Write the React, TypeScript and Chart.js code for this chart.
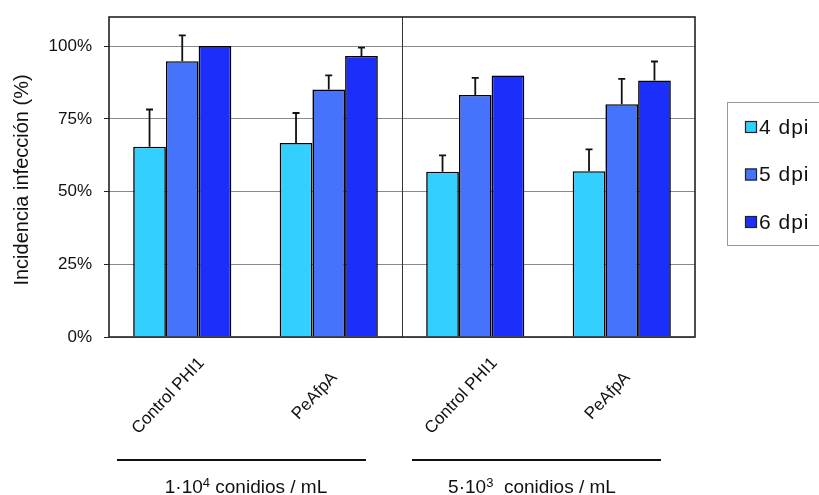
import React, { useEffect, useRef } from "react";
import { Chart, registerables } from "chart.js";

Chart.register(...registerables);

const categories = ["Control PHI1", "PeAfpA", "Control PHI1", "PeAfpA"];
const seriesLabels = ["4 dpi", "5 dpi", "6 dpi"];
const dpi4 = [65.4, 66.7, 56.8, 57.0];
const dpi5 = [94.8, 85.1, 83.2, 80.0];
const dpi6 = [100, 96.6, 89.9, 88.2];
const err4 = [12.8, 10.3, 5.6, 7.5];
const err5 = [8.9, 4.8, 5.9, 8.7];
const err6 = [0, 2.9, 0, 6.5];
const seriesColors = ["#33CFFF", "#4573FC", "#1C2FFA"];
const yTickValues = [0, 25, 50, 75, 100];
const groupBase = ["1·10", "5·10"];
const groupExp = ["4", "3"];
const groupRest = [" conidios / mL", "  conidios / mL"];
const yTitle = "Incidencia infección (%)";

const FONT = "'Liberation Sans', Arial, Helvetica, sans-serif";

const errors = [err4, err5, err6];

const decorPlugin = {
  id: "decor",
  beforeDatasetsDraw(chart: any) {
    const { ctx, chartArea, scales } = chart;
    const x = scales.x;
    const xm = (x.getPixelForValue(1) + x.getPixelForValue(2)) / 2;
    ctx.save();
    ctx.strokeStyle = "#333";
    ctx.lineWidth = 1;
    ctx.beginPath();
    ctx.moveTo(Math.round(xm) + 0.5, chartArea.top);
    ctx.lineTo(Math.round(xm) + 0.5, chartArea.bottom);
    ctx.stroke();
    ctx.restore();
  },
  afterDatasetsDraw(chart: any) {
    const { ctx, chartArea, scales } = chart;
    const y = scales.y;
    ctx.save();
    ctx.strokeStyle = "#111";
    ctx.lineWidth = 1.8;
    chart.data.datasets.forEach((ds: any, i: number) => {
      const meta = chart.getDatasetMeta(i);
      meta.data.forEach((el: any, j: number) => {
        const e = errors[i][j];
        if (!e) return;
        const yTop = y.getPixelForValue(ds.data[j] + e);
        ctx.beginPath();
        ctx.moveTo(el.x, el.y);
        ctx.lineTo(el.x, yTop);
        ctx.moveTo(el.x - 3.5, yTop);
        ctx.lineTo(el.x + 3.5, yTop);
        ctx.stroke();
      });
    });
    ctx.restore();
    ctx.save();
    ctx.strokeStyle = "#222";
    ctx.lineWidth = 1.6;
    ctx.strokeRect(chartArea.left, chartArea.top, chartArea.right - chartArea.left, chartArea.bottom - chartArea.top);
    ctx.restore();
  },
  afterDraw(chart: any) {
    const { ctx, chartArea, scales } = chart;
    const L = chartArea.left;
    const x = scales.x;

    // y axis title
    ctx.save();
    ctx.translate(22, (chartArea.top + chartArea.bottom) / 2 + 3);
    ctx.rotate(-Math.PI / 2);
    ctx.fillStyle = "#111";
    ctx.font = "20px " + FONT;
    ctx.textAlign = "center";
    ctx.textBaseline = "middle";
    ctx.fillText(yTitle, 0, 0);
    ctx.restore();

    // rotated category labels
    ctx.save();
    ctx.fillStyle = "#111";
    ctx.font = "17px " + FONT;
    ctx.textAlign = "center";
    ctx.textBaseline = "middle";
    categories.forEach((c, i) => {
      const px = x.getPixelForValue(i) - 14;
      const py = chartArea.bottom + 59;
      ctx.save();
      ctx.translate(px, py);
      ctx.rotate((-47 * Math.PI) / 180);
      ctx.fillText(c, 0, 0);
      ctx.restore();
    });
    ctx.restore();

    // group annotation lines and labels
    const spans = [
      [L + 8, L + 257],
      [L + 303, L + 552],
    ];
    const textCenters = [L + 137, L + 423];
    const lineY = chartArea.bottom + 123;
    const textY = chartArea.bottom + 156;
    ctx.save();
    spans.forEach((s, k) => {
      ctx.strokeStyle = "#111";
      ctx.lineWidth = 2.2;
      ctx.beginPath();
      ctx.moveTo(s[0], lineY);
      ctx.lineTo(s[1], lineY);
      ctx.stroke();
      const big = "19px " + FONT;
      const small = "13px " + FONT;
      ctx.font = big;
      const w1 = ctx.measureText(groupBase[k]).width;
      const w3 = ctx.measureText(groupRest[k]).width;
      ctx.font = small;
      const w2 = ctx.measureText(groupExp[k]).width;
      const total = w1 + w2 + w3;
      let cx = textCenters[k] - total / 2;
      ctx.fillStyle = "#111";
      ctx.textBaseline = "alphabetic";
      ctx.textAlign = "left";
      ctx.font = big;
      ctx.fillText(groupBase[k], cx, textY);
      cx += w1;
      ctx.font = small;
      ctx.fillText(groupExp[k], cx, textY - 6);
      cx += w2;
      ctx.font = big;
      ctx.fillText(groupRest[k], cx, textY);
    });
    ctx.restore();

    // legend
    const bx = chartArea.right + 32;
    const by = chartArea.top + 85;
    ctx.save();
    ctx.fillStyle = "#fff";
    ctx.fillRect(bx, by, 110, 143);
    ctx.strokeStyle = "#999";
    ctx.lineWidth = 1;
    ctx.strokeRect(bx + 0.5, by + 0.5, 110, 143);
    seriesLabels.forEach((lab, i) => {
      const cy = by + 25 + i * 47.5;
      ctx.fillStyle = seriesColors[i];
      ctx.fillRect(bx + 18, cy - 6, 12, 12);
      ctx.strokeStyle = "#222";
      ctx.lineWidth = 1.2;
      ctx.strokeRect(bx + 18.5, cy - 5.5, 11, 11);
      ctx.fillStyle = "#111";
      ctx.font = "21px " + FONT;
      (ctx as any).letterSpacing = "1px";
      ctx.textBaseline = "middle";
      ctx.textAlign = "left";
      ctx.fillText(lab, bx + 32, cy + 1);
      (ctx as any).letterSpacing = "0px";
    });
    ctx.restore();
  },
};

export default function App() {
  const ref = useRef<HTMLCanvasElement | null>(null);
  useEffect(() => {
    if (!ref.current) return;
    const datasets = [dpi4, dpi5, dpi6].map((d, i) => ({
      label: seriesLabels[i],
      data: d,
      backgroundColor: seriesColors[i],
      borderColor: "#000",
      borderWidth: 1.6,
      barPercentage: 1,
      categoryPercentage: 0.67,
    }));
    const chart = new Chart(ref.current, {
      type: "bar",
      data: { labels: categories, datasets },
      plugins: [decorPlugin],
      options: {
        responsive: false,
        animation: false,
        layout: { padding: { top: 17, right: 124, left: 0, bottom: 0 } },
        plugins: { legend: { display: false }, tooltip: { enabled: false } },
        scales: {
          x: {
            grid: { display: false },
            border: { display: false },
            ticks: { display: false },
            afterFit(s: any) {
              s.height = 158;
              s.paddingLeft = 0;
              s.paddingRight = 0;
            },
          },
          y: {
            min: 0,
            max: 110,
            afterBuildTicks(s: any) {
              s.ticks = yTickValues.map((v) => ({ value: v }));
            },
            afterFit(s: any) {
              s.width = 109;
              s.paddingTop = 0;
              s.paddingBottom = 0;
            },
            grid: {
              color: "#8a8a8a",
              lineWidth: 1,
              tickColor: "#222",
              tickLength: 5,
            },
            border: { display: false },
            ticks: {
              color: "#111",
              font: { family: FONT, size: 17 },
              padding: 12,
              callback: (v: any) => v + "%",
            },
          },
        },
      },
    });
    return () => chart.destroy();
  }, []);
  return (
    <div style={{ position: "fixed", left: 0, top: 0, width: 819, height: 495, background: "#fff" }}>
      <canvas ref={ref} width={819} height={495} style={{ width: 819, height: 495, display: "block" }} />
    </div>
  );
}
